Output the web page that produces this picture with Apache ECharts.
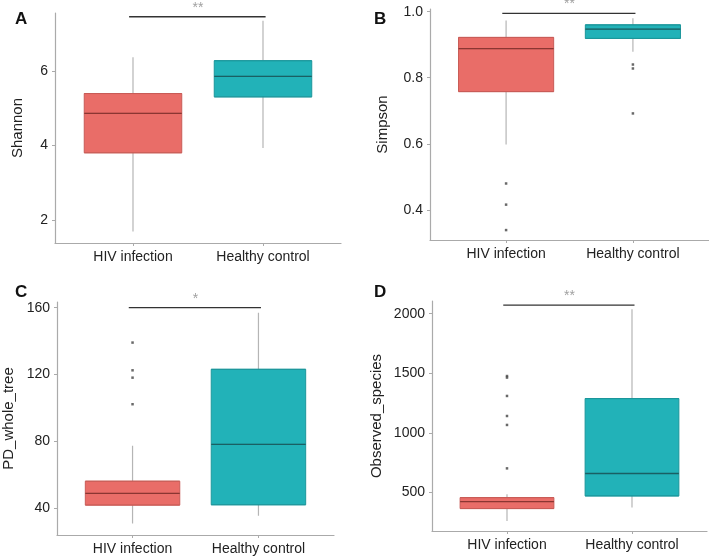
<!DOCTYPE html>
<html>
<head>
<meta charset="utf-8">
<script src="https://cdn.jsdelivr.net/npm/echarts@6/dist/echarts.min.js"></script>
<style>
  html, body { margin: 0; padding: 0; background: #fff; }
  #chart { width: 709px; height: 558px; }
</style>
</head>
<body>
<div id="chart"></div>
<script>
// groups on the x axis
const groups = ['HIV infection', 'Healthy control'];

// box stats per group: [min, q1, median, q3, max]
const shannonBox = [[1.69, 3.80, 4.86, 5.39, 6.36], [3.93, 5.30, 5.85, 6.27, 7.34]];
const simpsonBox = [[0.598, 0.758, 0.888, 0.922, 0.973], [0.879, 0.919, 0.947, 0.960, 0.980]];
const pdBox = [[30.8, 41.8, 48.8, 56.1, 77.3], [35.4, 42.0, 78.2, 123.1, 157.0]];
const observedBox = [[262, 366, 425, 458, 486], [375, 472, 660, 1288, 2036]];

// outliers per group
const shannonOut = [[], []];
const simpsonOut = [[0.480, 0.416, 0.339], [0.840, 0.828, 0.692]];
const pdOut = [[139.1, 122.5, 118.1, 102.2], []];
const observedOut = [[1477, 1464, 1310, 1142, 1067, 703], []];

// significance bar height and stars
const sigY = [7.45, 0.995, 160, 2072];
const sigText = ['**', '**', '*', '**'];

// y tick labels
const shannonTicks = [2, 4, 6];
const simpsonTicks = [0.4, 0.6, 0.8, 1.0];
const pdTicks = [40, 80, 120, 160];
const observedTicks = [500, 1000, 1500, 2000];

const panels = [
  { letter: 'A', name: 'Shannon', box: shannonBox, out: shannonOut, ticks: shannonTicks,
    min: 1.38, max: 7.55, grid: { left: 55, top: 13, width: 286, height: 230 }, nameGap: 30,
    fmt: v => String(v), lx: 10, ly: 6 },
  { letter: 'B', name: 'Simpson', box: simpsonBox, out: simpsonOut, ticks: simpsonTicks,
    min: 0.309, max: 1.008, grid: { left: 430, top: 9, width: 279, height: 231 }, nameGap: 40,
    fmt: v => v.toFixed(1), lx: 369, ly: 6 },
  { letter: 'C', name: 'PD_whole_tree', box: pdBox, out: pdOut, ticks: pdTicks,
    min: 23.9, max: 163.4, grid: { left: 57, top: 302, width: 277, height: 233 }, nameGap: 41,
    fmt: v => String(v), lx: 10, ly: 279 },
  { letter: 'D', name: 'Observed_species', box: observedBox, out: observedOut, ticks: observedTicks,
    min: 178, max: 2106, grid: { left: 432, top: 301, width: 275, height: 230 }, nameGap: 48,
    fmt: v => String(v), lx: 369, ly: 279 }
];

const fills = ['#E96D68', '#22B2B8'];
const borders = ['#C95C57', '#1C979C'];
const medians = ['#8A3632', '#1A5F63'];
const font = 'Liberation Sans, Arial, sans-serif';
const halfBox = 0.375; // box half width in x units (ggplot width 0.75)

const option = {
  animation: false,
  textStyle: { fontFamily: font },
  title: [], grid: [], xAxis: [], yAxis: [], series: []
};

panels.forEach((p, i) => {
  option.title.push({
    text: p.letter, left: p.lx, top: p.ly,
    textStyle: { fontSize: 17, fontWeight: 'bold', color: '#111', fontFamily: font }
  });
  option.grid.push(p.grid);
  option.xAxis.push({
    type: 'value', gridIndex: i, min: 0.4, max: 2.6,
    axisLine: { lineStyle: { color: '#aaa', width: 1.2 } },
    axisTick: { show: true, length: 3, lineStyle: { color: '#aaa' }, customValues: [1, 2] },
    axisLabel: { color: '#222', fontSize: 14, margin: 7, customValues: [1, 2],
      formatter: v => groups[Math.round(v) - 1] || '' },
    splitLine: { show: false }
  });
  option.yAxis.push({
    type: 'value', gridIndex: i, min: p.min, max: p.max,
    name: p.name, nameLocation: 'middle', nameGap: p.nameGap, nameRotate: 90,
    nameTextStyle: { fontSize: 15, color: '#222' },
    axisLine: { show: true, lineStyle: { color: '#aaa', width: 1.2 } },
    axisTick: { show: true, length: 3, lineStyle: { color: '#aaa' }, customValues: p.ticks },
    axisLabel: { color: '#222', fontSize: 14, margin: 7, customValues: p.ticks, formatter: p.fmt },
    splitLine: { show: false }
  });

  // whiskers behind the boxes
  p.box.forEach((b, g) => {
    option.series.push({
      type: 'line', xAxisIndex: i, yAxisIndex: i, symbol: 'none', z: 1,
      lineStyle: { color: '#b5b5b5', width: 1.2 },
      data: [[g + 1, b[0]], [g + 1, b[4]]]
    });
  });

  // boxes (one boxplot series per grid, so no side-by-side offset)
  const w = (halfBox * 2 / 2.2 * 2 * 100).toFixed(1) + '%'; // share of band (grid/2)
  option.series.push({
    type: 'boxplot', xAxisIndex: i, yAxisIndex: i, boxWidth: [w, w], z: 2,
    data: p.box.map((b, g) => ({
      value: [g + 1, b[1], b[1], b[2], b[3], b[3]],
      itemStyle: { color: fills[g], borderColor: borders[g], borderWidth: 1 }
    }))
  });

  // median lines
  p.box.forEach((b, g) => {
    option.series.push({
      type: 'line', xAxisIndex: i, yAxisIndex: i, symbol: 'none', z: 3,
      lineStyle: { color: medians[g], width: 1.3 },
      data: [[g + 1 - halfBox, b[2]], [g + 1 + halfBox, b[2]]]
    });
  });

  // outliers
  const pts = [];
  p.out.forEach((arr, g) => arr.forEach(v => pts.push([g + 1, v])));
  option.series.push({
    type: 'scatter', xAxisIndex: i, yAxisIndex: i, symbol: 'rect', symbolSize: 2.5, z: 4,
    itemStyle: { color: '#444' }, data: pts
  });

  // significance bar
  option.series.push({
    type: 'line', xAxisIndex: i, yAxisIndex: i, symbol: 'none', z: 4,
    lineStyle: { color: '#333', width: 1.3 },
    data: [[0.97, sigY[i]], [2.02, sigY[i]]]
  });
  option.series.push({
    type: 'scatter', xAxisIndex: i, yAxisIndex: i, symbolSize: 0, z: 4, clip: false,
    label: { show: true, position: 'top', distance: 2, formatter: sigText[i],
      color: '#888', fontSize: 14 },
    data: [[1.5, sigY[i]]]
  });
});

const chart = echarts.init(document.getElementById('chart'));
chart.setOption(option);
</script>
</body>
</html>
